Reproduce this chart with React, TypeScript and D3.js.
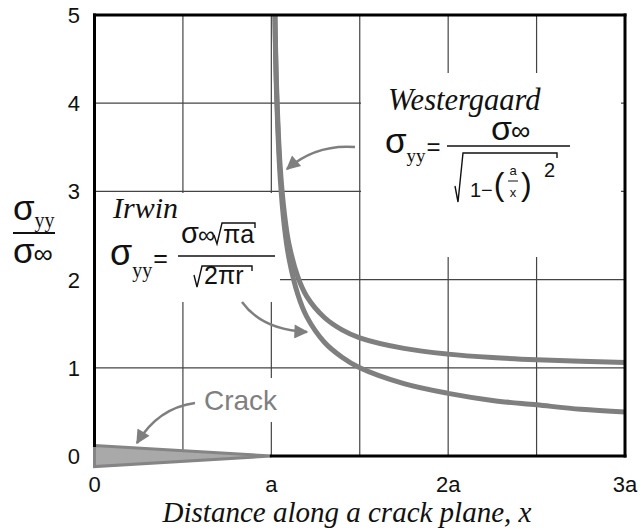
import React from "react";
import * as d3 from "d3";

const W = 641;
const H = 531;

// Axis ticks and grid
const xTickValues = [0, 1, 2, 3];
const xTickLabels = ["0", "a", "2a", "3a"];
const yTickValues = [0, 1, 2, 3, 4, 5];
const gridXValues = [0.5, 1, 1.5, 2, 2.5];
const gridYValues = [1, 2, 3, 4];

// Stress curves (x in units of a, stress normalised by far-field stress)
const curveX = [1.01, 1.02, 1.03, 1.05, 1.075, 1.1, 1.15, 1.2, 1.3, 1.4, 1.5, 1.75, 2, 2.25, 2.5, 2.75, 3];
const westergaardY = [7.12, 5.07, 4.17, 3.28, 2.73, 2.4, 2.03, 1.81, 1.57, 1.43, 1.34, 1.22, 1.155, 1.116, 1.091, 1.074, 1.061];
const irwinY = [7.07, 5.0, 4.08, 3.16, 2.58, 2.24, 1.83, 1.58, 1.29, 1.12, 1.0, 0.82, 0.71, 0.63, 0.58, 0.53, 0.5];

// Crack wedge outline
const crackX = [0, 1, 0];
const crackY = [0.12, 0, -0.12];

const SANS = "'Liberation Sans', Arial, sans-serif";
const SERIF = "'Liberation Serif', 'Times New Roman', serif";
const CURVE_GREY = "#7f7f7f";
const GRID = "#444";

function Radical({ x0, yHook, yBottom, yTop, xEnd }: { x0: number; yHook: number; yBottom: number; yTop: number; xEnd: number }) {
  const d = `M${x0},${yHook} L${x0 + 3},${yBottom} L${x0 + 8},${yTop} L${xEnd},${yTop} L${xEnd},${yTop + 5}`;
  return <path d={d} fill="none" stroke="#111" strokeWidth={1.4} strokeLinejoin="miter" />;
}

export default function App() {
  const x = d3.scaleLinear().domain([0, 3]).range([94.5, 625]);
  const y = d3.scaleLinear().domain([0, 5]).range([456, 15]);

  const line = d3
    .line<number>()
    .x((_, i) => x(curveX[i]))
    .curve(d3.curveCatmullRom.alpha(0.5));

  const westPath = line.y((v) => y(v))(westergaardY) || "";
  const irwinPath = line.y((v) => y(v))(irwinY) || "";

  const wedge = crackX.map((cx, i) => `${x(cx)},${y(crackY[i])}`).join(" ");

  const [x0, x1] = x.range();
  const [yb, yt] = y.range();

  return (
    <svg width={W} height={H} style={{ position: "absolute", left: 0, top: 0, background: "#fff" }}>
      <defs>
        <clipPath id="plotClip">
          <rect x={x0} y={yt} width={x1 - x0} height={yb - yt + 20} />
        </clipPath>
        <marker id="head" viewBox="0 0 10 10" refX={9} refY={5} markerWidth={17} markerHeight={14} markerUnits="userSpaceOnUse" orient="auto">
          <path d="M0,0 L10,5 L0,10 z" fill={CURVE_GREY} />
        </marker>
      </defs>
      <rect width={W} height={H} fill="#fff" />

      {/* grid */}
      {gridXValues.map((g) => (
        <line key={"gx" + g} x1={x(g)} x2={x(g)} y1={yt} y2={yb} stroke={GRID} strokeWidth={1.2} />
      ))}
      {gridYValues.map((g) => (
        <line key={"gy" + g} x1={x0} x2={x1} y1={y(g)} y2={y(g)} stroke={GRID} strokeWidth={1.2} />
      ))}

      {/* label backgrounds over the grid */}
      <rect x={361} y={73} width={260} height={184} fill="#fff" />
      <rect x={96} y={193} width={184} height={109} fill="#fff" />
      <rect x={200} y={378} width={84} height={44} fill="#fff" />

      {/* crack wedge */}
      <polygon points={wedge} fill="#a9a9a9" stroke="#858585" strokeWidth={3} strokeLinejoin="miter" />

      {/* curves */}
      <g clipPath="url(#plotClip)">
        <path d={westPath} fill="none" stroke={CURVE_GREY} strokeWidth={5} />
        <path d={irwinPath} fill="none" stroke={CURVE_GREY} strokeWidth={5} />
      </g>

      {/* frame */}
      <g stroke="#000" strokeWidth={3} strokeLinecap="square" fill="none">
        <line x1={x0} x2={x1} y1={yt} y2={yt} />
        <line x1={x1} x2={x1} y1={yt} y2={yb} />
        <line x1={x0} x2={x0} y1={yt} y2={y(crackY[0])} />
        <line x1={x(1)} x2={x1} y1={yb} y2={yb} />
      </g>

      {/* tick labels */}
      {yTickValues.map((v) => (
        <text key={"yt" + v} x={80} y={y(v) + 8} textAnchor="end" fontFamily={SANS} fontSize={22} fill="#111">
          {v}
        </text>
      ))}
      {xTickValues.map((v, i) => (
        <text key={"xt" + v} x={x(v)} y={492} textAnchor="middle" fontFamily={SANS} fontSize={22} fill="#111">
          {xTickLabels[i]}
        </text>
      ))}

      {/* axis titles */}
      <text x={347} y={522} textAnchor="middle" fontFamily={SERIF} fontStyle="italic" fontSize={29} fill="#111">
        Distance along a crack plane, x
      </text>
      <g fill="#111">
        <text x={13} y={220} fontFamily={SANS} fontSize={35}>
          σ<tspan fontFamily={SERIF} fontSize={20} dy={7}>yy</tspan>
        </text>
        <line x1={13} x2={55} y1={233} y2={233} stroke="#111" strokeWidth={2} />
        <text x={13} y={263} fontFamily={SANS} fontSize={35}>
          σ<tspan fontSize={27} dx={-1}>∞</tspan>
        </text>
      </g>

      {/* Westergaard annotation */}
      <g fill="#111">
        <text x={388} y={110} fontFamily={SERIF} fontStyle="italic" fontSize={30.5}>Westergaard</text>
        <text x={385} y={153} fontFamily={SANS} fontSize={35}>
          σ<tspan fontFamily={SERIF} fontSize={19} dy={9}>yy</tspan>
          <tspan fontSize={24} dx={1} dy={-7}>=</tspan>
        </text>
        <text x={491} y={140} fontFamily={SANS} fontSize={34}>
          σ<tspan fontSize={27} dx={-1}>∞</tspan>
        </text>
        <line x1={447} x2={570} y1={146} y2={146} stroke="#111" strokeWidth={1.6} />
        <Radical x0={455} yHook={186} yBottom={202} yTop={153} xEnd={557} />
        <text x={470} y={197} fontFamily={SANS} fontSize={20}>
          1−<tspan fontSize={32} dy={-2} dx={1}>(</tspan>
        </text>
        <text x={513} y={175} textAnchor="middle" fontFamily={SANS} fontSize={13}>a</text>
        <line x1={508} x2={518} y1={181} y2={181} stroke="#111" strokeWidth={1} />
        <text x={513} y={197} textAnchor="middle" fontFamily={SANS} fontSize={13}>x</text>
        <text x={521} y={195} fontFamily={SANS} fontSize={32}>)</text>
        <text x={544} y={177} fontFamily={SANS} fontSize={20}>2</text>
      </g>

      {/* Irwin annotation */}
      <g fill="#111">
        <text x={113} y={218} fontFamily={SERIF} fontStyle="italic" fontSize={30}>Irwin</text>
        <text x={110} y={265} fontFamily={SANS} fontSize={36}>
          σ<tspan fontFamily={SERIF} fontSize={20} dy={12}>yy</tspan>
          <tspan fontSize={25} dx={1} dy={-10}>=</tspan>
        </text>
        <text x={181} y={243} fontFamily={SANS} fontSize={29}>
          σ<tspan fontSize={24} dx={-1}>∞</tspan>
        </text>
        <Radical x0={214} yHook={235} yBottom={244} yTop={223} xEnd={255} />
        <text x={223} y={243} fontFamily={SANS} fontSize={25}>πa</text>
        <line x1={178} x2={275} y1={256} y2={256} stroke="#111" strokeWidth={1.6} />
        <Radical x0={194} yHook={275} yBottom={287} yTop={266} xEnd={252} />
        <text x={204} y={284} fontFamily={SANS} fontSize={25}>2πr</text>
      </g>

      {/* Crack label */}
      <text x={204} y={410} fontFamily={SANS} fontSize={28} fill={CURVE_GREY}>Crack</text>

      {/* pointer arrows */}
      <g fill="none" stroke={CURVE_GREY} strokeWidth={2.5}>
        <path d="M355,147 Q316,144 287,169" markerEnd="url(#head)" />
        <path d="M242,302 Q262,330 307,332" markerEnd="url(#head)" />
        <path d="M195,403 Q158,408 137,443" markerEnd="url(#head)" />
      </g>
    </svg>
  );
}
